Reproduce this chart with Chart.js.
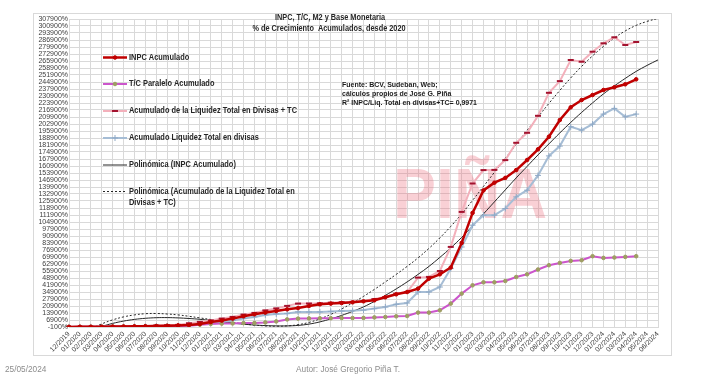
<!DOCTYPE html>
<html><head><meta charset="utf-8">
<script src="https://cdn.jsdelivr.net/npm/chart.js@4.4.1/dist/chart.umd.min.js"></script>
<style>html,body{margin:0;padding:0;background:#fff;}#wrap{width:710px;height:379px;position:relative;}</style>
</head><body><div id="wrap"><canvas id="c" width="710" height="379"></canvas></div>
<script>
const months = ["12/2019","01/2020","02/2020","03/2020","04/2020","05/2020","06/2020","07/2020","08/2020","09/2020","10/2020","11/2020","12/2020",
"01/2021","02/2021","03/2021","04/2021","05/2021","06/2021","07/2021","08/2021","09/2021","10/2021","11/2021","12/2021",
"01/2022","02/2022","03/2022","04/2022","05/2022","06/2022","07/2022","08/2022","09/2022","10/2022","11/2022","12/2022",
"01/2023","02/2023","03/2023","04/2023","05/2023","06/2023","07/2023","08/2023","09/2023","10/2023","11/2023","12/2023",
"01/2024","02/2024","03/2024","04/2024","05/2024","06/2024"];

const inpcAcum = [0,65,100,130,310,400,530,650,850,1100,1500,1900,2900,4800,6300,8300,10600,12600,14300,15900,17600,18900,20900,22600,23300,23900,24600,25600,26600,29600,32600,34900,38300,48300,52600,59400,84000,114000,136500,144200,149000,156800,166900,177600,190200,206900,219600,226900,231900,236900,239600,242600,247600,null,null];

const tcParalelo = [0,60,100,150,280,330,390,550,800,1000,1000,1100,2200,3000,3300,3500,3800,4000,4500,5500,7500,8300,8500,8600,8700,8900,8900,9000,9500,9900,10600,10900,14300,14300,16600,23300,33300,41600,44600,44600,45900,49900,52600,57400,61700,64000,66000,66700,70700,69000,69400,70000,70700,null,null];

const liqDivisasTC = [0,90,160,190,380,530,690,950,1400,1800,2000,3600,5000,6500,8300,10000,12300,14000,16500,18500,21000,23300,23400,23600,24200,24700,25100,25800,27800,29900,33200,34800,49300,50000,55900,80000,115000,143400,156800,157000,166800,184100,194100,211100,234100,245800,266900,265200,275200,283600,289600,281900,284900,null,null];

const liqDivisas = [0,30,60,40,100,200,300,400,600,800,1000,2500,2800,3500,5000,6500,8500,10000,12000,13000,13500,15000,14900,15000,15500,15800,16200,16800,18300,20000,22600,23900,34900,34900,39900,58300,79900,101700,111700,111700,118400,130000,136700,151500,171000,180800,200100,196800,202800,212800,218500,210100,212800,null,null];

const polyINPC = [-14000,-7000,-2500,500,3500,5800,7500,8600,9200,9300,9000,8400,7600,6400,5000,3800,2700,1900,1300,1000,1000,1500,2800,5000,8000,11500,15500,20000,25500,31500,38000,45000,52500,60500,69500,79000,89500,101000,113000,125000,137000,149000,160500,172000,183000,194000,204500,214500,224000,233000,241000,248500,255500,261500,267000];

const polyLiqTC = [-17000,-8000,-2000,3000,7000,10000,12000,13200,13400,12900,12000,10600,9000,7400,5900,4500,3000,1800,1000,700,1000,2200,4500,8000,12500,18000,24000,30500,37500,45000,52500,60500,69000,78500,89000,100500,113000,126500,140500,154500,168500,182500,196500,210000,223500,236500,249000,260500,271000,280500,289000,296000,301500,305500,308500];

const yTickValues = [-100,6900,13900,20900,27900,34900,41900,48900,55900,62900,69900,76900,83900,90900,97900,104900,111900,118900,125900,132900,139900,146900,153900,160900,167900,174900,181900,188900,195900,202900,209900,216900,223900,230900,237900,244900,251900,258900,265900,272900,279900,286900,293900,300900,307900];

const seriesNames = ["INPC Acumulado","T/C Paralelo Acumulado","Acumulado de la Liquidez Total en Divisas + TC","Acumulado Liquidez Total en divisas","Polinómica (INPC Acumulado)","Polinómica (Acumulado de la Liquidez Total en Divisas + TC)"];

const titleLines = ["INPC, T/C, M2 y Base Monetaria","% de Crecimiento  Acumulados, desde 2020"];
const noteLines = ["Fuente: BCV, Sudeban, Web;","cálculos propios de José G. Piña","R² INPC/Liq. Total en divisas+TC= 0,9971"];
const footerDate = "25/05/2024";
const footerAuthor = "Autor: José Gregorio Piña T.";
const watermark = "PIÑA";

const FONT = '"Liberation Sans", Arial, sans-serif';
Chart.defaults.font.family = FONT;

function scaledText(ctx, text, x, y, sx) {
  ctx.save();
  ctx.translate(x, y);
  ctx.scale(sx, 1);
  ctx.fillText(text, 0, 0);
  ctx.restore();
}

const overlay = {
  id: 'overlay',
  beforeDraw(chart) {
    const ctx = chart.ctx;
    ctx.save();
    ctx.fillStyle = '#fff';
    ctx.fillRect(0, 0, chart.width, chart.height);
    ctx.strokeStyle = '#d9d9d9';
    ctx.lineWidth = 1;
    ctx.strokeRect(33.5, 13.5, 638, 342);
    ctx.restore();
  },
  beforeDatasetsDraw(chart) {
    const ctx = chart.ctx;
    ctx.save();
    ctx.font = 'bold 70px "Liberation Sans", Arial, sans-serif';
    const w = ctx.measureText(watermark).width;
    ctx.translate(393, 218);
    ctx.scale(154 / w, 1);
    ctx.fillStyle = 'rgba(235,100,115,0.30)';
    ctx.textBaseline = 'alphabetic';
    ctx.fillText(watermark, 0, 0);
    ctx.restore();
  },
  afterDraw(chart) {
    const ctx = chart.ctx;
    ctx.save();
    ctx.textBaseline = 'middle';
    ctx.textAlign = 'left';
    // title
    ctx.fillStyle = '#262626';
    ctx.font = 'bold 8.5px ' + FONT;
    const sT = 110 / ctx.measureText(titleLines[0]).width;
    titleLines.forEach((t, k) => {
      const w = ctx.measureText(t).width * sT;
      scaledText(ctx, t, [330, 329][k] - w / 2, [18, 29][k], sT);
    });
    // note
    ctx.font = 'bold 8px ' + FONT;
    ctx.fillStyle = '#1a1a1a';
    const sN = 135 / ctx.measureText(noteLines[2]).width;
    noteLines.forEach((t, k) => scaledText(ctx, t, 342, 85 + k * 9, sN));
    // legend
    const ds = chart.data.datasets;
    const ys = [57.5, 84, 111, 138, 165, 191.5];
    ctx.font = 'bold 8.5px ' + FONT;
    const sL = 168 / ctx.measureText(seriesNames[2]).width;
    for (let i = 0; i < ds.length; i++) {
      const d = ds[i];
      const y = ys[i];
      ctx.save();
      ctx.strokeStyle = d.borderColor;
      ctx.lineWidth = d.borderWidth;
      ctx.setLineDash(d.borderDash || []);
      ctx.beginPath();
      ctx.moveTo(103, y); ctx.lineTo(127, y);
      ctx.stroke();
      ctx.setLineDash([]);
      if (d.pointRadius > 0) {
        ctx.fillStyle = d.pointBackgroundColor;
        ctx.strokeStyle = d.pointBorderColor;
        ctx.lineWidth = d.pointBorderWidth || 1;
        ctx.beginPath();
        if (d.pointStyle === 'circle') {
          ctx.arc(115, y, d.pointRadius, 0, Math.PI * 2);
          ctx.fill(); ctx.stroke();
        } else if (d.pointStyle === 'line') {
          ctx.moveTo(115 - d.pointRadius, y); ctx.lineTo(115 + d.pointRadius, y); ctx.stroke();
        } else if (d.pointStyle === 'cross') {
          ctx.moveTo(115 - d.pointRadius, y); ctx.lineTo(115 + d.pointRadius, y);
          ctx.moveTo(115, y - d.pointRadius); ctx.lineTo(115, y + d.pointRadius); ctx.stroke();
        }
      }
      ctx.restore();
      ctx.fillStyle = '#262626';
      const words = d.label.split(' ');
      let line = '', lines = [];
      for (const wd of words) {
        const t = line ? line + ' ' + wd : wd;
        if (ctx.measureText(t).width * sL > 176 && line) { lines.push(line); line = wd; } else line = t;
      }
      lines.push(line);
      lines.forEach((l, k) => scaledText(ctx, l, 129, y + k * 11, sL));
    }
    // footer
    ctx.fillStyle = '#8c8c8c';
    ctx.font = '8.5px ' + FONT;
    const sF = 104 / ctx.measureText(footerAuthor).width;
    scaledText(ctx, footerDate, 5, 370, sF);
    scaledText(ctx, footerAuthor, 296, 370, sF);
    ctx.restore();
  }
};

new Chart(document.getElementById('c'), {
  type: 'line',
  data: {
    labels: months,
    datasets: [
      { label: seriesNames[0], data: inpcAcum, borderColor: '#c00000', borderWidth: 2.5, pointStyle: 'circle', pointRadius: 1.8, pointBackgroundColor: '#c00000', pointBorderColor: '#c00000', pointBorderWidth: 1 },
      { label: seriesNames[1], data: tcParalelo, borderColor: '#cc55cc', borderWidth: 2, pointStyle: 'circle', pointRadius: 1.8, pointBackgroundColor: '#9e9e62', pointBorderColor: '#9e9e62', pointBorderWidth: 1 },
      { label: seriesNames[2], data: liqDivisasTC, borderColor: '#f3b0bb', borderWidth: 2, pointStyle: 'line', pointRadius: 3, pointBackgroundColor: '#a3122e', pointBorderColor: '#a3122e', pointBorderWidth: 2 },
      { label: seriesNames[3], data: liqDivisas, borderColor: '#a6bdd5', borderWidth: 2, pointStyle: 'cross', pointRadius: 3, pointBackgroundColor: '#8fa9c6', pointBorderColor: '#8fa9c6', pointBorderWidth: 1 },
      { label: seriesNames[4], data: polyINPC, borderColor: '#262626', borderWidth: 1, pointRadius: 0, tension: 0.4 },
      { label: seriesNames[5], data: polyLiqTC, borderColor: '#262626', borderWidth: 1, borderDash: [2, 2], pointRadius: 0, tension: 0.4 }
    ]
  },
  options: {
    responsive: false,
    animation: false,
    layout: { padding: { left: 0, right: 52, top: 19, bottom: 27 } },
    plugins: { legend: { display: false }, tooltip: { enabled: false }, title: { display: false } },
    elements: { line: { tension: 0 } },
    scales: {
      x: {
        type: 'category',
        offset: false,
        grid: { color: '#d9d9d9', lineWidth: 1, drawTicks: false },
        border: { color: '#d9d9d9' },
        ticks: { autoSkip: false, maxRotation: 45, minRotation: 45, font: { size: 7 }, color: '#404040', padding: 3 },
        afterFit(scale) { scale.height = 25; }
      },
      y: {
        min: -100, max: 307900,
        grid: { color: '#d9d9d9', lineWidth: 1, drawTicks: false },
        border: { color: '#d9d9d9' },
        ticks: { font: { size: 7 }, color: '#404040', padding: 1, autoSkip: false, callback: v => v + '%' },
        afterBuildTicks(scale) { scale.ticks = yTickValues.map(v => ({ value: v })); },
        afterFit(scale) { scale.width = 69; }
      }
    }
  },
  plugins: [overlay]
});
</script>
</body></html>
